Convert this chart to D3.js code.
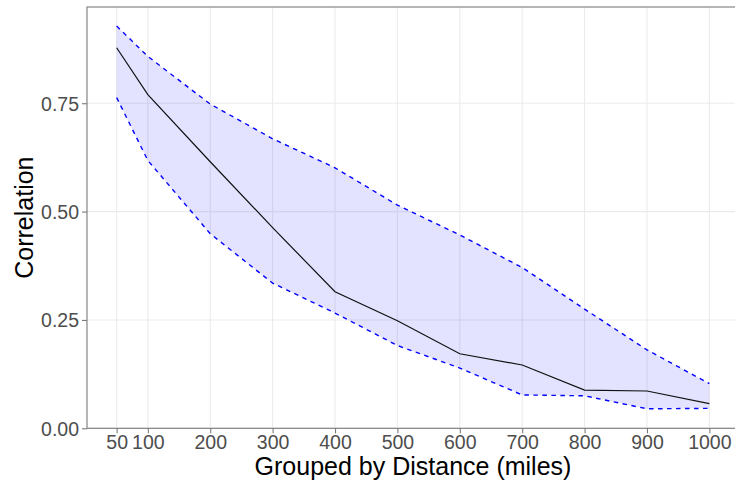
<!DOCTYPE html>
<html>
<head>
<meta charset="utf-8">
<script src="https://cdn.jsdelivr.net/npm/d3@7"></script>
<style>
  body { margin: 0; background: #fff; }
  svg { display: block; font-family: "Liberation Sans", Arial, sans-serif; }
</style>
</head>
<body>
<div id="chart"></div>
<script>
// distances (miles) and correlation summaries
const distances = [50, 100, 200, 300, 400, 500, 600, 700, 800, 900, 1000];
const meanCor  = [0.878, 0.770, 0.615, 0.463, 0.315, 0.248, 0.172, 0.146, 0.088, 0.086, 0.057];
const upperCor = [0.928, 0.858, 0.748, 0.668, 0.601, 0.515, 0.446, 0.371, 0.275, 0.181, 0.103];
const lowerCor = [0.763, 0.618, 0.449, 0.335, 0.266, 0.191, 0.139, 0.077, 0.075, 0.045, 0.046];
const yTicks = [0, 0.25, 0.5, 0.75];

const data = distances.map((d, i) => ({ x: d, m: meanCor[i], hi: upperCor[i], lo: lowerCor[i] }));

const W = 735, H = 485;
const svg = d3.select("#chart").append("svg")
  .attr("width", W)
  .attr("height", H);

// panel runs a little past the right edge, like the original crop
const x = d3.scaleLinear().domain([2.5, 1047.5]).range([87, 739]);
const y = d3.scaleLinear().domain([0, 0.972]).range([428.3, 7]);

// grid lines
svg.append("g").selectAll("line.gx")
  .data(distances)
  .enter().append("line")
  .attr("x1", d => x(d)).attr("x2", d => x(d))
  .attr("y1", 7).attr("y2", 428.3)
  .attr("stroke", "#ebebeb").attr("stroke-width", 1.1);

svg.append("g").selectAll("line.gy")
  .data(yTicks)
  .enter().append("line")
  .attr("x1", 87).attr("x2", 739)
  .attr("y1", d => y(d)).attr("y2", d => y(d))
  .attr("stroke", "#ebebeb").attr("stroke-width", 1.1);

// ribbon
const area = d3.area()
  .x(d => x(d.x))
  .y0(d => y(d.lo))
  .y1(d => y(d.hi));

svg.append("path")
  .datum(data)
  .attr("d", area)
  .attr("fill", "blue")
  .attr("fill-opacity", 0.11);

const line = key => d3.line().x(d => x(d.x)).y(d => y(d[key]));

svg.append("path").datum(data)
  .attr("d", line("hi"))
  .attr("fill", "none").attr("stroke", "blue")
  .attr("stroke-width", 1.4).attr("stroke-dasharray", "4.5,4.5");

svg.append("path").datum(data)
  .attr("d", line("lo"))
  .attr("fill", "none").attr("stroke", "blue")
  .attr("stroke-width", 1.4).attr("stroke-dasharray", "4.5,4.5");

svg.append("path").datum(data)
  .attr("d", line("m"))
  .attr("fill", "none").attr("stroke", "#111")
  .attr("stroke-width", 1.2);

// panel border
svg.append("rect")
  .attr("x", 87).attr("y", 7)
  .attr("width", 739 - 87).attr("height", 428.3 - 7)
  .attr("fill", "none").attr("stroke", "#7a7a7a").attr("stroke-width", 1.1);

// axes
const xAxis = svg.append("g")
  .attr("transform", "translate(0,428.3)")
  .call(d3.axisBottom(x).tickValues(distances).tickFormat(d3.format("d")).tickSize(5).tickPadding(3).tickSizeOuter(0));
const yAxis = svg.append("g")
  .attr("transform", "translate(87,0)")
  .call(d3.axisLeft(y).tickValues(yTicks).tickFormat(d3.format(".2f")).tickSize(5).tickPadding(3).tickSizeOuter(0));

[xAxis, yAxis].forEach(g => {
  g.select(".domain").remove();
  g.selectAll(".tick line").attr("stroke", "#7a7a7a").attr("stroke-width", 1.1);
  g.selectAll(".tick text")
    .attr("fill", "#4d4d4d")
    .style("font-size", "19.5px")
    .style("font-family", "'Liberation Sans', Arial, sans-serif");
});
xAxis.selectAll(".tick text").attr("dy", "0.63em");
yAxis.selectAll(".tick text").attr("dy", "0.36em");

// axis titles
svg.append("text")
  .attr("x", (87 + 739) / 2).attr("y", 475)
  .attr("text-anchor", "middle")
  .style("font-size", "25px")
  .text("Grouped by Distance (miles)");

svg.append("text")
  .attr("transform", "translate(32.5," + (7 + 428.3) / 2 + ") rotate(-90)")
  .attr("text-anchor", "middle")
  .style("font-size", "25px")
  .text("Correlation");
</script>
</body>
</html>
